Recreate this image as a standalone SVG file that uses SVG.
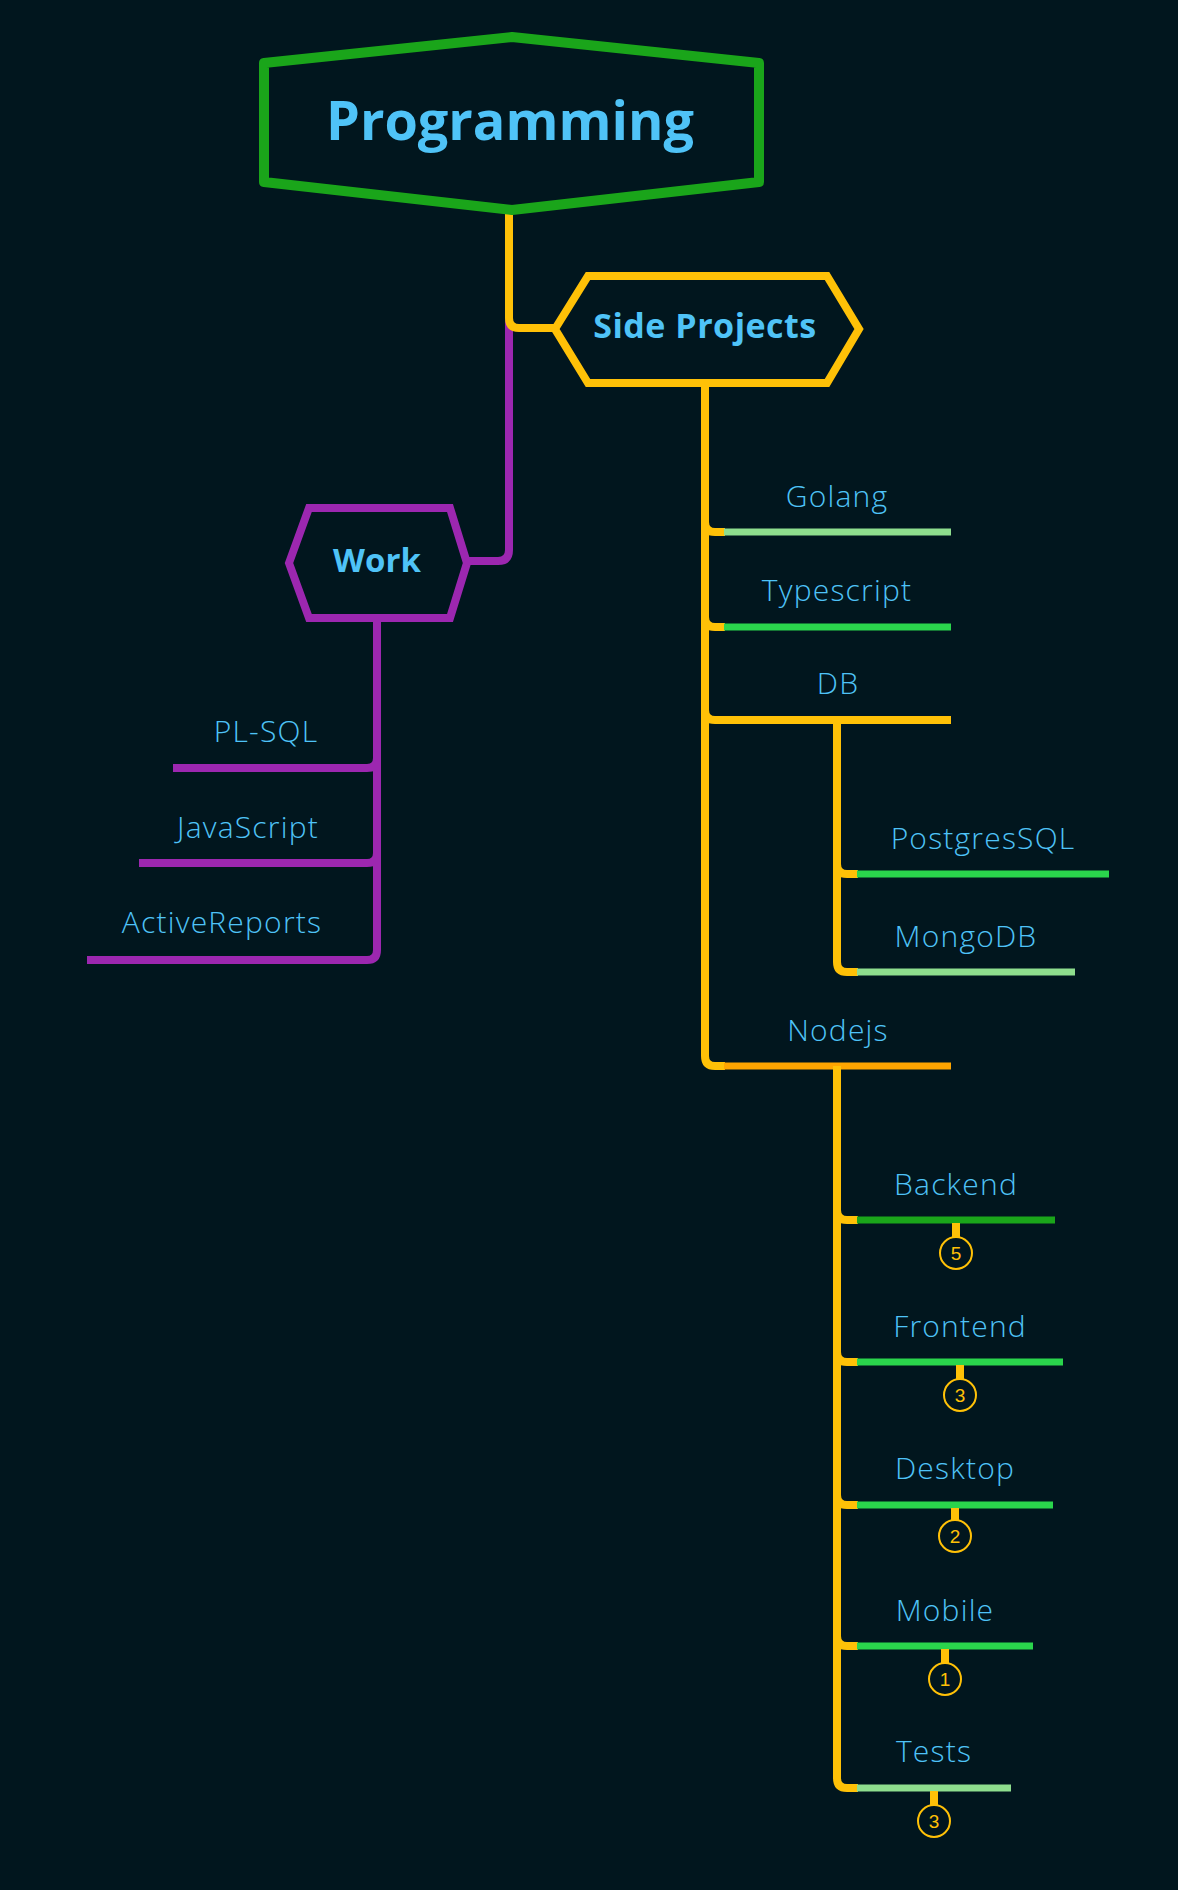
<svg xmlns="http://www.w3.org/2000/svg" width="1178" height="1890" viewBox="0 0 1178 1890">
<style>
.bg{fill:#01161e}
.lbl{font-family:"Open Sans",Lato,"Liberation Sans",sans-serif;fill:#4fc3f7;text-anchor:middle}
.leaf{font-size:30px;font-weight:300;letter-spacing:1.2px}
.main{font-weight:700}
.c{fill:none;stroke-linecap:butt;stroke-linejoin:round}
.y{stroke:#ffc107}
.p{stroke:#9c27b0}
.t{stroke-width:8}
.l{stroke-width:7}
.lg{stroke:#8ede8e}
.bgr{stroke:#2ad54c}
.dg{stroke:#1aa51a}
.or{stroke:#ffa500}
.badge circle{fill:#01161e;stroke:#ffc107;stroke-width:2}
.badge line{stroke:#ffc107;stroke-width:8}
.badge text{font-family:"Liberation Sans",Arial,sans-serif;font-size:19px;fill:#ffc107;text-anchor:middle}
</style>
<rect class="bg" x="0" y="0" width="1178" height="1890"/>
<g id="connectors">
<path class="c p t" d="M509,210 V550 Q509,561 498,561 H467"/>
<path class="c y t" d="M509,210 V318 Q509,328 519,328 H556"/>
<path class="c p t" d="M377,618 V758 Q377,768 367,768 H173"/>
<path class="c p t" d="M377,618 V853 Q377,863 367,863 H139"/>
<path class="c p t" d="M377,618 V950 Q377,960 367,960 H87"/>
<path class="c y t" d="M705,383 V522 Q705,532 715,532 H725"/>
<path class="c y t" d="M705,383 V617 Q705,627 715,627 H725"/>
<path class="c y t" d="M705,383 V710 Q705,720 715,720 H951"/>
<path class="c y t" d="M705,383 V1056 Q705,1066 715,1066 H725"/>
<path class="c lg l" d="M724,532 H951"/>
<path class="c bgr l" d="M724,627 H951"/>
<path class="c or l" d="M724,1066 H951"/>
<path class="c y t" d="M837,720 V864 Q837,874 847,874 H858"/>
<path class="c y t" d="M837,720 V962 Q837,972 847,972 H858"/>
<path class="c bgr l" d="M857,874 H1109"/>
<path class="c lg l" d="M857,972 H1075"/>
<path class="c y t" d="M837,1066 V1210 Q837,1220 847,1220 H858"/>
<path class="c y t" d="M837,1066 V1352 Q837,1362 847,1362 H858"/>
<path class="c y t" d="M837,1066 V1495 Q837,1505 847,1505 H858"/>
<path class="c y t" d="M837,1066 V1636 Q837,1646 847,1646 H858"/>
<path class="c y t" d="M837,1066 V1778 Q837,1788 847,1788 H858"/>
<path class="c dg l" d="M857,1220 H1055"/>
<path class="c bgr l" d="M857,1362 H1063"/>
<path class="c bgr l" d="M857,1505 H1053"/>
<path class="c bgr l" d="M857,1646 H1033"/>
<path class="c lg l" d="M857,1788 H1011"/>
</g>
<g id="node-programming">
<path d="M264,63 L512,37 L759,63 L759,182 L512,210 L264,182 Z" fill="#01161e" stroke="#1aa51a" stroke-width="10" stroke-linejoin="round"/>
<text class="lbl main" x="510" y="140" font-size="54">Programming</text>
</g>
<g id="node-side-projects">
<path d="M555,329 L588,276 L827,276 L859,329 L827,383 L588,383 Z" fill="#01161e" stroke="#ffc107" stroke-width="8"/>
<text class="lbl main" x="705" y="338" font-size="34" letter-spacing="0.5">Side Projects</text>
</g>
<g id="node-work">
<path d="M289,563 L309,508 L450,508 L467,563 L450,618 L309,618 Z" fill="#01161e" stroke="#9c27b0" stroke-width="8"/>
<text class="lbl main" x="377" y="572" font-size="33">Work</text>
</g>
<g id="node-plsql"><text class="lbl leaf" x="266" y="742">PL-SQL</text></g>
<g id="node-javascript"><text class="lbl leaf" x="248" y="838">JavaScript</text></g>
<g id="node-activereports"><text class="lbl leaf" x="222" y="933">ActiveReports</text></g>
<g id="node-golang"><text class="lbl leaf" x="837" y="507">Golang</text></g>
<g id="node-typescript"><text class="lbl leaf" x="837" y="601">Typescript</text></g>
<g id="node-db"><text class="lbl leaf" x="838" y="694">DB</text></g>
<g id="node-postgressql"><text class="lbl leaf" x="983" y="849">PostgresSQL</text></g>
<g id="node-mongodb"><text class="lbl leaf" x="966" y="947">MongoDB</text></g>
<g id="node-nodejs"><text class="lbl leaf" x="838" y="1041">Nodejs</text></g>
<g id="node-backend"><text class="lbl leaf" x="956" y="1195">Backend</text>
<g class="badge"><line x1="956" y1="1223" x2="956" y2="1237"/><circle cx="956" cy="1253" r="16"/><text x="956" y="1260">5</text></g></g>
<g id="node-frontend"><text class="lbl leaf" x="960" y="1337">Frontend</text>
<g class="badge"><line x1="960" y1="1365" x2="960" y2="1379"/><circle cx="960" cy="1395" r="16"/><text x="960" y="1402">3</text></g></g>
<g id="node-desktop"><text class="lbl leaf" x="955" y="1479">Desktop</text>
<g class="badge"><line x1="955" y1="1508" x2="955" y2="1520"/><circle cx="955" cy="1536" r="16"/><text x="955" y="1543">2</text></g></g>
<g id="node-mobile"><text class="lbl leaf" x="945" y="1621">Mobile</text>
<g class="badge"><line x1="945" y1="1649" x2="945" y2="1663"/><circle cx="945" cy="1679" r="16"/><text x="945" y="1686">1</text></g></g>
<g id="node-tests"><text class="lbl leaf" x="934" y="1762">Tests</text>
<g class="badge"><line x1="934" y1="1791" x2="934" y2="1805"/><circle cx="934" cy="1821" r="16"/><text x="934" y="1828">3</text></g></g>
</svg>
